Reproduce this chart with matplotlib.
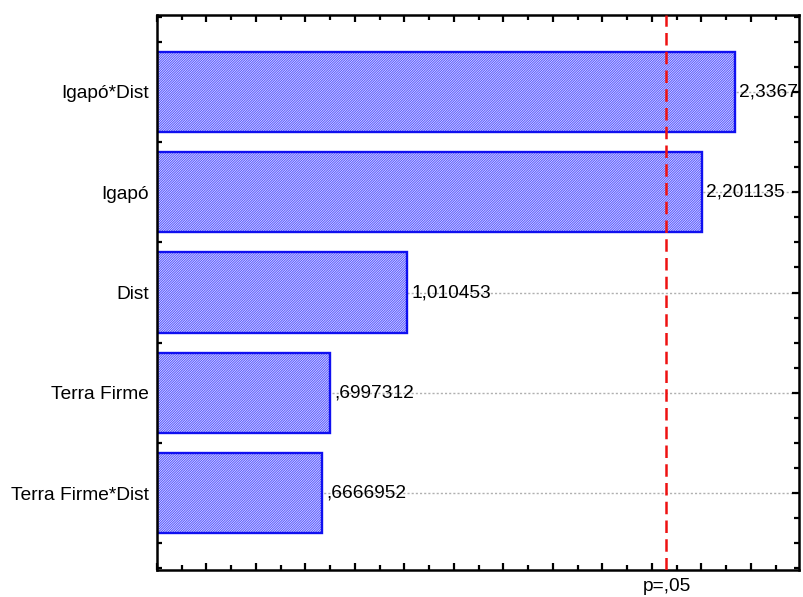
import matplotlib
matplotlib.use("Agg")
import matplotlib.pyplot as plt
from matplotlib.ticker import MultipleLocator

plt.rcParams['font.family'] = ['Liberation Sans', 'DejaVu Sans']
plt.rcParams['hatch.linewidth'] = 0.8

categories = ["Igapó*Dist", "Igapó", "Dist", "Terra Firme", "Terra Firme*Dist"]
values = [2.33672, 2.201135, 1.010453, 0.6997312, 0.6666952]
value_labels = ["2,33672", "2,201135", "1,010453", ",6997312", ",6666952"]
p_crit = 2.056
p_label = "p=,05"

FS = 13.8
fig = plt.figure(figsize=(8.04, 5.97), dpi=100)
ax = fig.add_axes([157/804, 1-570/597, (799-157)/804, (570-15)/597])

ypos = list(range(len(categories)))
ax.set_axisbelow(True)
ax.grid(axis='y', color='#b0b0b0', linestyle=(0, (1.5, 1.5)), linewidth=1.0)
# hatch fill
ax.barh(ypos, values, height=0.8, color='white', edgecolor='#5a5aff',
        hatch='/' * 14, linewidth=0, zorder=2)
# outline
ax.barh(ypos, values, height=0.8, color='none', edgecolor='#1010f0',
        linewidth=1.7, zorder=2.5)

for y, v, lab in zip(ypos, values, value_labels):
    ax.annotate(lab, xy=(v, y), xytext=(3, 0), textcoords='offset points',
                va='center', ha='left', fontsize=FS, color='black',
                annotation_clip=False, clip_on=True, zorder=3)

ax.axvline(p_crit, color='#ee1111', linestyle=(0, (5, 2.5)), linewidth=1.8, zorder=4)

ax.set_xlim(0, 2.594)
ax.set_ylim(4.766, -0.766)
ax.set_yticks(ypos)
ax.set_yticklabels(categories, fontsize=FS)
ax.yaxis.set_minor_locator(MultipleLocator(0.25))
ax.xaxis.set_major_locator(MultipleLocator(0.2))
ax.xaxis.set_minor_locator(MultipleLocator(0.1))
ax.set_xticklabels([])
ax.tick_params(which='both', direction='in', top=True, right=True, bottom=True, left=True,
               width=1.6, color='black')
ax.tick_params(which='major', length=5)
ax.tick_params(which='minor', length=3.5)
ax.tick_params(axis='y', which='major', pad=6)
for s in ax.spines.values():
    s.set_linewidth(1.8)
    s.set_color('black')

fig.text(667/804, 1-591/597, p_label, ha='center', va='baseline', fontsize=FS)

fig.savefig("out.png", dpi=100)
